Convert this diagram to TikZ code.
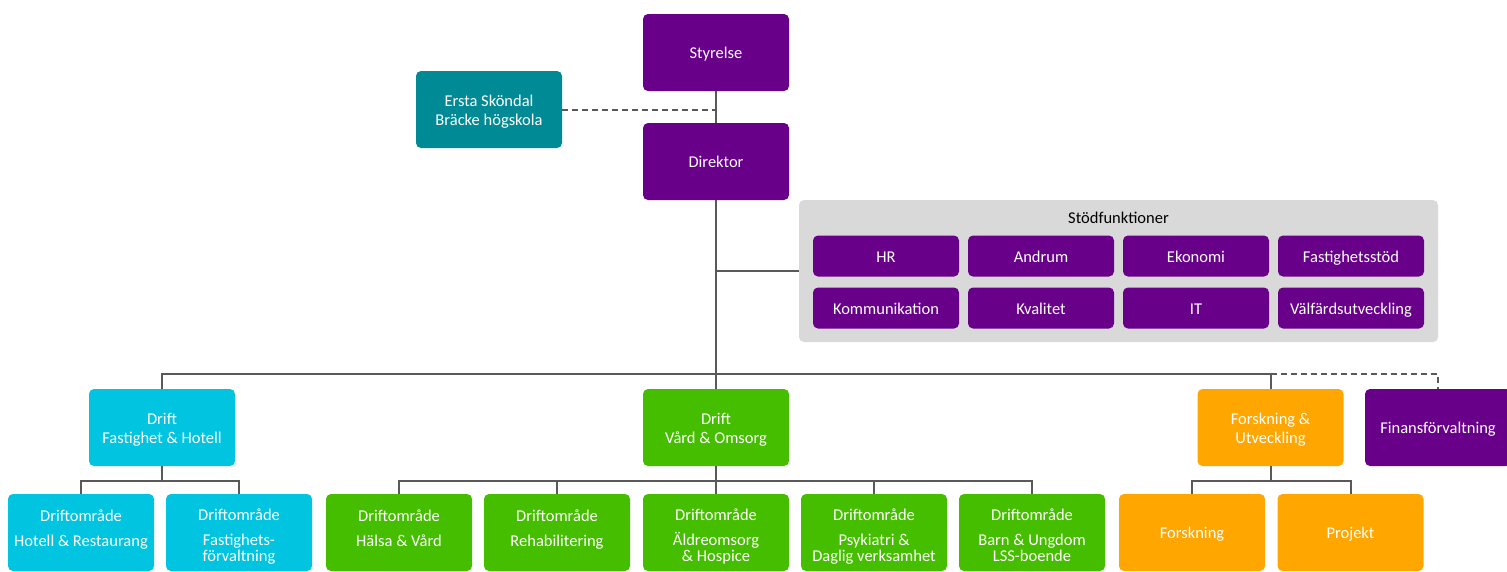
\documentclass[tikz,border=0pt]{standalone}
\usepackage{fontspec}
\setmainfont{Carlito}
\definecolor{vio}{RGB}{104,0,138}
\definecolor{teal}{RGB}{0,138,150}
\definecolor{cyn}{RGB}{0,196,224}
\definecolor{grn}{RGB}{70,190,0}
\definecolor{org}{RGB}{255,166,0}
\definecolor{lgray}{RGB}{217,217,217}
\definecolor{lnc}{RGB}{89,89,89}
\newcommand\qs{\rule[-3.2pt]{0pt}{19pt}}
\begin{document}
\begin{tikzpicture}[x=1pt,y=-1pt,
  box/.style={rounded corners=5pt, minimum width=146pt, minimum height=77pt, inner sep=0pt, text=white, align=center, font=\fontsize{16.5}{19}\selectfont},
  sbox/.style={box, fill=vio, minimum height=41pt},
  lbl/.style={inner sep=0pt, text=white, align=center, font=\fontsize{16.5}{19}\selectfont},
  two/.style={lbl, yshift=2.5pt},
  three/.style={lbl, yshift=-5pt},
  conn/.style={draw=lnc, line width=2pt},
  dconn/.style={conn, dash pattern=on 6pt off 4pt}]
\useasboundingbox (0,0) rectangle (1507,571);
\clip (0,0) rectangle (1507,571);
% top
\node[box, fill=vio] (sty) at (716,52.5) {\qs Styrelse};
\node[box, fill=vio] (dir) at (716,161.5) {\qs Direktor};
\node[box, fill=teal] (ers) at (489,109.5) {\qs Ersta Sköndal\\\qs Bräcke högskola};
% support functions
\node[rounded corners=5pt, fill=lgray, minimum width=639pt, minimum height=142pt, inner sep=0pt] (stod) at (1118.5,271) {};
\node[font=\fontsize{16.5}{19}\selectfont, text=black, inner sep=0pt] (stodt) at (1118.5,217) {\qs Stödfunktioner};
\node[sbox] (hr) at (886,256) {\qs HR};
\node[sbox] (and) at (1041,256) {\qs Andrum};
\node[sbox] (eko) at (1196,256) {\qs Ekonomi};
\node[sbox] (fst) at (1351,256) {\qs Fastighetsstöd};
\node[sbox] (kom) at (886,308) {\qs Kommunikation};
\node[sbox] (kva) at (1041,308) {\qs Kvalitet};
\node[sbox] (it) at (1196,308) {\qs IT};
\node[sbox] (vfu) at (1351,308) {\qs Välfärdsutveckling};
% level 2
\node[box, fill=cyn] (d1) at (162,427.5) {\qs Drift\\\qs Fastighet \& Hotell};
\node[box, fill=grn] (d2) at (716,427.5) {\qs Drift\\\qs Vård \& Omsorg};
\node[box, fill=org] (d3) at (1270.5,427.5) {\qs Forskning \&\\\qs Utveckling};
\node[box, fill=vio] (fin) at (1438,427.5) {\qs Finansförvaltning};
% level 3
\node[box, fill=cyn] (c1) at (81,532.5) {};
\node[box, fill=cyn] (c2) at (239,532.5) {};
\node[box, fill=grn] (g1) at (399,532.5) {};
\node[box, fill=grn] (g2) at (557,532.5) {};
\node[box, fill=grn] (g3) at (716,532.5) {};
\node[box, fill=grn] (g4) at (874,532.5) {};
\node[box, fill=grn] (g5) at (1032,532.5) {};
\node[box, fill=org] (o1) at (1192,532.5) {\qs Forskning};
\node[box, fill=org] (o2) at (1350.5,532.5) {\qs Projekt};
\node[two] (c1t) at (c1) {\strut Driftområde\\[6pt]\strut Hotell \& Restaurang};
\node[three] (c2t) at (c2) {\strut Driftområde\\[6pt]\strut Fastighets-\\[-3pt]\strut förvaltning};
\node[two] (g1t) at (g1) {\strut Driftområde\\[6pt]\strut Hälsa \& Vård};
\node[two] (g2t) at (g2) {\strut Driftområde\\[6pt]\strut Rehabilitering};
\node[three] (g3t) at (g3) {\strut Driftområde\\[6pt]\strut Äldreomsorg\\[-3pt]\strut \& Hospice};
\node[three] (g4t) at (g4) {\strut Driftområde\\[6pt]\strut Psykiatri \&\\[-3pt]\strut Daglig verksamhet};
\node[three] (g5t) at (g5) {\strut Driftområde\\[6pt]\strut Barn \& Ungdom\\[-3pt]\strut LSS-boende};
% connectors
\coordinate (bus) at (716,374);
\draw[conn] (sty.south) -- (dir.north);
\draw[dconn] (ers.east) -- (ers.east -| sty.south);
\draw[conn] (dir.south) -- (bus);
\draw[conn] (stod.west -| dir.south) -- (stod.west);
\draw[conn] (d1.north) -- (d1.north |- bus) -- (d3.north |- bus) -- (d3.north);
\draw[conn] (bus) -- (d2.north);
\draw[dconn] (d3.north |- bus) -- (fin.north |- bus) -- (fin.north);
\coordinate (s1) at (162,481);
\coordinate (s2) at (716,481);
\coordinate (s3) at (1270.5,481);
\draw[conn] (d1.south) -- (s1);
\draw[conn] (c1.north) |- (s1) -| (c2.north);
\draw[conn] (d2.south) -- (s2);
\draw[conn] (g1.north) |- (s2) -| (g5.north);
\draw[conn] (g2.north) -- (g2.north |- s2);
\draw[conn] (g3.north) -- (s2);
\draw[conn] (g4.north) -- (g4.north |- s2);
\draw[conn] (d3.south) -- (s3);
\draw[conn] (o1.north) |- (s3) -| (o2.north);
\end{tikzpicture}
\end{document}
